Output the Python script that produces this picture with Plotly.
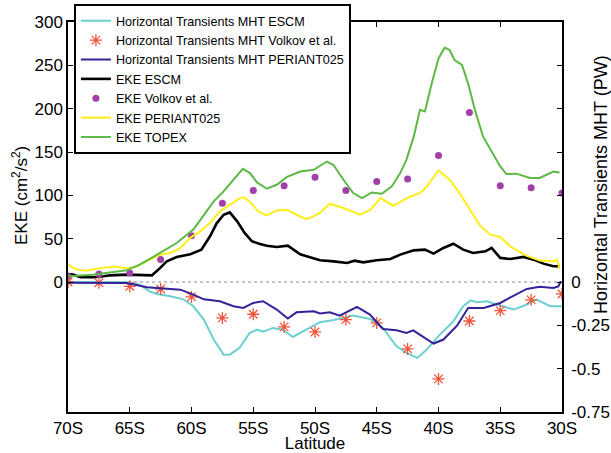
import plotly.graph_objects as go

# ---------------- data ----------------
tick_lats = [-70, -65, -60, -55, -50, -45, -40, -35, -30]
tick_labels = ["70S", "65S", "60S", "55S", "50S", "45S", "40S", "35S", "30S"]
mht_tickvals = [0, -0.25, -0.5, -0.75]
mht_ticktext = ["0", "-0.25", "-0.5", "-0.75"]

# Volkov et al. (every 2.5 degrees)
volkov_lat = [-70, -67.5, -65, -62.5, -60, -57.5, -55, -52.5, -50, -47.5, -45,
              -42.5, -40, -37.5, -35, -32.5, -30]
volkov_eke = [6.6, 9.3, 10.5, 26, 53.5, 91, 105.6, 111, 121, 105.6, 116,
              118.8, 146, 195.5, 111, 108.8, 102.6]
volkov_mht = [0.0, -0.004, -0.025, -0.04, -0.086, -0.207, -0.186, -0.259, -0.288,
              -0.217, -0.236, -0.386, -0.559, -0.225, -0.165, -0.103, -0.069]

# EKE TOPEX
topex_lat = [-70.0, -68.0, -65.25, -64.2, -62.55, -61.2, -59.85, -58.2, -57.4, -56.6,
             -55.85, -55.26, -54.7, -53.9, -53.1, -52.3, -51.2, -50.1, -49.05, -48.5,
             -47.7, -46.9, -46.2, -45.4, -44.6, -43.8, -43.1, -42.6, -42.0, -41.5,
             -41.1, -40.55, -40.0, -39.5, -39.1, -38.7, -38.1, -37.6, -37.05, -36.4,
             -35.6, -35.0, -34.5, -33.7, -32.6, -31.8, -30.7, -30.2]
topex_eke = [6.6, 8.5, 13.5, 20, 33.5, 45, 60.4, 93, 104.5, 118,
             130.6, 125.7, 114.9, 107.6, 112.2, 121, 127.5, 129.5, 139, 135,
             118, 102.6, 96.9, 103.3, 101.8, 110, 125.7, 141, 168, 198.6,
             196.7, 229, 258, 270.4, 267.7, 256, 250.5, 229, 198.6, 168,
             148.7, 133.3, 124.5, 125, 120, 120, 127.5, 126.4]

# EKE PERIANT025
periant_lat = [-70.0, -69.8, -69.3, -68.5, -67.4, -66.3, -65.25, -64.4, -63.6, -62.55,
               -61.7, -60.9, -60.1, -59.3, -58.5, -57.7, -56.9, -56.2, -55.8, -55.3,
               -54.6, -53.9, -53.1, -52.3, -51.5, -50.7, -50.1, -49.6, -48.8, -47.7,
               -46.35, -45.5, -44.7, -43.65, -42.3, -41.5, -40.95, -40.0, -39.1, -38.3,
               -37.45, -36.6, -35.8, -35.0, -34.2, -32.9, -31.8, -30.7, -30.4, -30.2]
periant_eke = [21, 18, 14.3, 13, 16, 18, 16, 18, 24, 31.5,
               33.5, 39, 51, 58.4, 68, 81.5, 89, 95.7, 98, 93,
               81.5, 76.8, 82.6, 83.4, 77.6, 72.5, 75.7, 80, 90.3, 85.4,
               77.6, 83.4, 96.9, 88, 98.7, 102.6, 110, 128.7, 118, 102.6,
               83.4, 64.2, 54.6, 52, 41.1, 30.4, 24.7, 23.8, 25.8, 15]

# EKE ESCM
escm_lat = [-70.0, -69.6, -69.0, -67.95, -67.1, -66.6, -65.25, -64.2, -63.2, -62.55,
            -62.0, -61.2, -60.1, -59.2, -58.5, -57.95, -57.4, -56.9, -56.3, -55.7,
            -55.1, -54.45, -53.9, -53.1, -52.2, -51.2, -50.4, -49.6, -48.5, -47.4,
            -46.8, -46.1, -45.0, -43.9, -43.1, -42.0, -41.1, -40.4, -39.6, -38.8,
            -38.0, -37.2, -36.2, -35.7, -35.0, -34.2, -33.1, -32.3, -31.5, -30.7, -30.2]
escm_eke = [9.3, 8.5, 5.4, 5.4, 6.6, 7.7, 8.5, 7.7, 7.7, 16,
            23.8, 28.9, 32, 37.3, 52.7, 68, 77.6, 80.3, 70, 56.6,
            46.9, 43.9, 41.9, 40.4, 41.9, 32, 28.9, 25, 23.8, 22,
            24.6, 22.7, 25, 26.6, 31.6, 36.5, 37.3, 32.7, 39.3, 44.2,
            37.3, 33.5, 35.4, 39.3, 27.8, 26.6, 28.9, 25.8, 21.2, 18.1, 18.1]

# Horizontal transients MHT ESCM
mht_escm_lat = [-70.0, -66.6, -65.0, -64.2, -63.4, -62.8, -61.7, -60.65, -59.85, -59.0,
                -58.2, -57.4, -56.9, -56.1, -55.3, -54.7, -54.2, -53.4, -52.6, -51.8,
                -50.7, -49.6, -48.5, -46.9, -45.55, -44.5, -43.4, -42.6, -41.7, -40.95,
                -39.9, -38.8, -38.0, -37.4, -36.9, -36.1, -35.0, -33.9, -32.85, -32.05,
                -30.95, -30.0]
mht_escm = [0.0, 0.0, -0.002, -0.015, -0.054, -0.069, -0.082, -0.10, -0.14, -0.217,
            -0.332, -0.419, -0.419, -0.38, -0.294, -0.275, -0.286, -0.265, -0.275, -0.317,
            -0.275, -0.232, -0.219, -0.194, -0.213, -0.265, -0.371, -0.409, -0.438, -0.39,
            -0.304, -0.227, -0.14, -0.106, -0.117, -0.111, -0.136, -0.159, -0.13, -0.102,
            -0.14, -0.14]

# Horizontal transients MHT PERIANT025
mht_periant_lat = [-70.0, -65.25, -63.6, -61.7, -60.9, -59.85, -59.0, -57.7, -56.6, -55.8,
                   -55.0, -54.2, -53.1, -52.2, -51.5, -50.1, -49.6, -48.8, -48.0, -46.6,
                   -45.55, -44.5, -43.4, -42.6, -42.05, -40.4, -39.6, -38.5, -37.6, -36.35,
                   -35.0, -33.9, -32.85, -31.8, -30.7, -30.3, -30.1]
mht_periant = [-0.005, -0.006, -0.03, -0.04, -0.044, -0.073, -0.10, -0.111, -0.14, -0.15,
               -0.121, -0.111, -0.159, -0.211, -0.175, -0.169, -0.182, -0.175, -0.194, -0.144,
               -0.188, -0.271, -0.279, -0.294, -0.279, -0.355, -0.332, -0.252, -0.15, -0.15,
               -0.121, -0.078, -0.04, -0.028, -0.034, -0.025, 0.004]

FONT = "Liberation Sans, Arial, Helvetica, sans-serif"

fig = go.Figure()

fig.add_trace(go.Scatter(x=mht_escm_lat, y=mht_escm, yaxis="y2", mode="lines",
                         name="Horizontal Transients MHT ESCM",
                         line=dict(color="#6CCFD0", width=2)))
fig.add_trace(go.Scatter(x=volkov_lat, y=volkov_mht, yaxis="y2", mode="markers",
                         name="Horizontal Transients MHT Volkov et al.",
                         marker=dict(symbol="asterisk-open", size=10,
                                     line=dict(color="#FF2A2A", width=1.3))))
fig.add_trace(go.Scatter(x=mht_periant_lat, y=mht_periant, yaxis="y2", mode="lines",
                         name="Horizontal Transients MHT PERIANT025",
                         line=dict(color="#33229A", width=2)))
fig.add_trace(go.Scatter(x=escm_lat, y=escm_eke, mode="lines", name="EKE ESCM",
                         line=dict(color="#000000", width=2.6)))
fig.add_trace(go.Scatter(x=volkov_lat, y=volkov_eke, mode="markers",
                         name="EKE Volkov et al.",
                         marker=dict(symbol="circle", size=7, color="#A040A8")))
fig.add_trace(go.Scatter(x=periant_lat, y=periant_eke, mode="lines", name="EKE PERIANT025",
                         line=dict(color="#FFEE1A", width=2)))
fig.add_trace(go.Scatter(x=topex_lat, y=topex_eke, mode="lines", name="EKE TOPEX",
                         line=dict(color="#5DB847", width=2)))

# dotted zero line
fig.add_shape(type="line", xref="x", yref="y", x0=-70, x1=-30, y0=0, y1=0,
              line=dict(color="#888888", width=1, dash="dot"), layer="below")

axis_common = dict(showline=True, linecolor="black", linewidth=1.5, ticks="inside",
                   ticklen=5, tickcolor="black", showgrid=False, zeroline=False,
                   tickfont=dict(family=FONT, size=17, color="black"))

fig.update_layout(
    width=611, height=453,
    margin=dict(l=68, r=49, t=22, b=41, autoexpand=False),
    paper_bgcolor="white", plot_bgcolor="white",
    font=dict(family=FONT, color="black"),
    xaxis=dict(range=[-70, -30], tickvals=tick_lats, ticktext=tick_labels,
               mirror="ticks", title=dict(text="Latitude", font=dict(size=17), standoff=6),
               **axis_common),
    yaxis=dict(range=[-150, 300], tickvals=[0, 50, 100, 150, 200, 250, 300],
               mirror="ticks", **axis_common),
    yaxis2=dict(range=[-0.75, 1.5], tickvals=mht_tickvals, ticktext=mht_ticktext,
                overlaying="y", side="right", ticklabelstandoff=4, **axis_common),
    legend=dict(x=0.012, y=1.046, xanchor="left", yanchor="top",
                bgcolor="white", bordercolor="black", borderwidth=2,
                font=dict(family=FONT, size=12.6, color="black"),
                tracegroupgap=0),
    showlegend=True,
)

fig.add_annotation(text="EKE (cm<sup>2</sup>/s<sup>2</sup>)", xref="paper", yref="paper",
                   x=-0.097, y=0.554, xanchor="center", yanchor="middle",
                   textangle=-90, showarrow=False, font=dict(family=FONT, size=17))
fig.add_annotation(text="Horizontal Transients MHT (PW)", xref="paper", yref="paper",
                   x=1.079, y=0.582, xanchor="center", yanchor="middle",
                   textangle=-90, showarrow=False, font=dict(family=FONT, size=18))

# remove the default 8px page margin so the figure sits at the window's corner
fig.write_html("out.html", config={"displayModeBar": False},
               post_script="document.body.style.margin='0px';document.body.style.overflow='hidden';")
